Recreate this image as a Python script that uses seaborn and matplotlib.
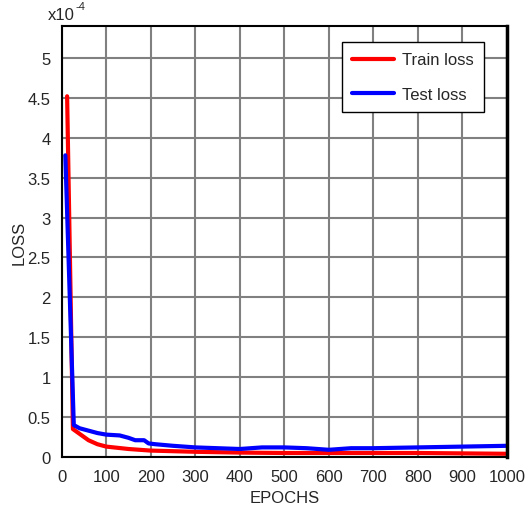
import numpy as np
import pandas as pd
import matplotlib
matplotlib.use("Agg")
import matplotlib.pyplot as plt
import seaborn as sns

# --- data (loss in units of 1e-4) ---
train_epochs = [12, 25, 40, 60, 80, 100, 150, 200, 300, 400, 500, 600, 700, 800, 900, 1000]
train_loss = [4.52, 0.35, 0.29, 0.21, 0.16, 0.13, 0.10, 0.08, 0.065, 0.055, 0.05, 0.05, 0.05, 0.05, 0.045, 0.04]

test_epochs = [8, 27, 40, 60, 80, 100, 130, 150, 165, 185, 195, 210, 250, 300, 400, 450, 500, 550, 600, 650, 700, 800, 900, 1000]
test_loss = [3.78, 0.40, 0.36, 0.33, 0.30, 0.28, 0.27, 0.24, 0.21, 0.21, 0.17, 0.16, 0.14, 0.12, 0.10, 0.12, 0.12, 0.11, 0.09, 0.11, 0.11, 0.12, 0.13, 0.14]

sns.set_style("white")
plt.rcParams['font.family'] = ['Liberation Sans', 'DejaVu Sans']

df_train = pd.DataFrame({"epoch": train_epochs, "loss": np.array(train_loss) * 1e-4})
df_test = pd.DataFrame({"epoch": test_epochs, "loss": np.array(test_loss) * 1e-4})

fig = plt.figure(figsize=(5.28, 5.10), dpi=100)
ax = fig.add_axes([0.117, 0.102, 0.843, 0.845])

sns.lineplot(data=df_train, x="epoch", y="loss", color="red", linewidth=3, label="Train loss", ax=ax)
sns.lineplot(data=df_test, x="epoch", y="loss", color="blue", linewidth=3, label="Test loss", ax=ax)

ax.set_xlim(0, 1000)
ax.set_ylim(0, 5.4e-4)
ax.set_xticks(np.arange(0, 1001, 100))
ax.set_yticks(np.arange(0, 5.01e-4, 0.5e-4))
ax.set_yticklabels(["0", "0.5", "1", "1.5", "2", "2.5", "3", "3.5", "4", "4.5", "5"])
# MATLAB-style exponent above the y axis
ax.text(-0.031, 1.01, "x10", transform=ax.transAxes, ha="left", va="bottom", fontsize=12)
ax.text(0.031, 1.035, "-4", transform=ax.transAxes, ha="left", va="bottom", fontsize=8)

ax.grid(True, color="#808080", linewidth=1.5)
ax.set_axisbelow(True)
for s in ax.spines.values():
    s.set_color("black")
    s.set_linewidth(1.5)
ax.spines["right"].set_linewidth(2.5)
ax.tick_params(axis="x", direction="in", length=0, labelsize=12, pad=9, color="black")
ax.tick_params(axis="y", direction="in", length=0, labelsize=12, pad=8, color="black")

ax.set_xlabel("EPOCHS", fontsize=12, labelpad=4)
ax.set_ylabel("LOSS", fontsize=12)
ax.yaxis.set_label_coords(-0.08, 0.5)

leg = ax.legend(loc="upper right", bbox_to_anchor=(0.948, 0.962), fontsize=12, frameon=True,
                fancybox=False, edgecolor="black", framealpha=1, handlelength=2.5,
                handletextpad=0.5, labelspacing=1.15, borderpad=0.6, borderaxespad=0)
leg.get_frame().set_linewidth(1)

fig.savefig("out.png", dpi=100)
